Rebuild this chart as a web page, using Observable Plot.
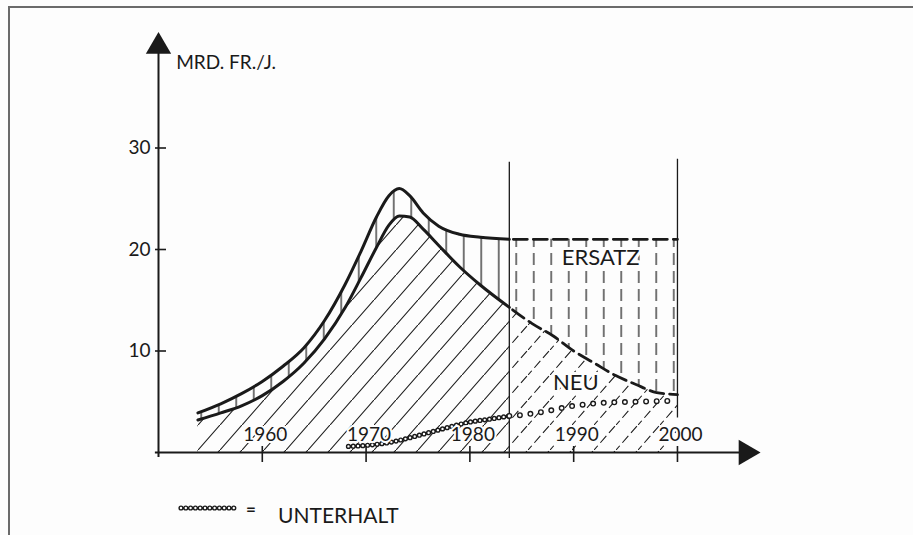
<!DOCTYPE html>
<html><head><meta charset="utf-8">
<script src="https://cdn.jsdelivr.net/npm/d3@7"></script>
<script src="https://cdn.jsdelivr.net/npm/@observablehq/plot@0.6"></script>
<style>
html,body{margin:0;padding:0;background:#fdfdfd;}
#wrap{position:relative;width:913px;height:535px;overflow:hidden;font-family:Lato,"Open Sans",sans-serif;color:#1a1a1a;}
#frame{position:absolute;left:8px;top:6px;right:-6px;bottom:-6px;border-left:2px solid #6b6b6b;border-top:2px solid #6b6b6b;}
#chart{position:absolute;left:0;top:0;}
.lg{position:absolute;white-space:nowrap;}
</style></head><body>
<div id="wrap">
  <div id="frame"></div>
  <div id="chart"></div>
  <svg class="lg" style="left:177px;top:502px" width="64" height="12">
    <path d="M4,6H60" fill="none" stroke="#1a1a1a" stroke-width="5.2" stroke-linecap="round" stroke-dasharray="0 4.8"/>
    <path d="M4,6H60" fill="none" stroke="#fdfdfd" stroke-width="2.4" stroke-linecap="round" stroke-dasharray="0 4.8"/>
  </svg>
  <span class="lg" style="left:246px;top:498px;font-size:17px;font-weight:bold">=</span>
  <span class="lg" id="legendText" style="left:278px;top:502px;font-size:21px"></span>
</div>
<script>
// ---- data ----
const years = [1953.8, 1956, 1958, 1960, 1962, 1964, 1966, 1968, 1969.5, 1971, 1972.2, 1973.2, 1974.2, 1975.5, 1977, 1979, 1981, 1983.8, 1986, 1988, 1990, 1992, 1994, 1996, 1998, 2000];
const total = [3.9, 4.8, 5.8, 7.0, 8.5, 10.3, 13.0, 16.6, 19.8, 23.2, 25.3, 26.0, 25.3, 23.6, 22.3, 21.5, 21.2, 21.0, 21.0, 21.0, 21.0, 21.0, 21.0, 21.0, 21.0, 21.0];
const neu   = [3.2, 3.9, 4.6, 5.6, 7.0, 8.8, 11.2, 14.3, 17.2, 20.2, 22.4, 23.3, 23.2, 22.0, 20.4, 18.3, 16.5, 14.3, 12.7, 11.5, 10.0, 8.8, 7.6, 6.7, 5.9, 5.7];
const splitYear = 1983.8; // solid (observed) vs dashed (forecast)

const unterhaltYears  = [1968.3, 1970, 1972.3, 1974, 1976.2, 1978, 1980, 1982, 1983.8, 1985, 1987, 1990, 1993, 1996, 2000];
const unterhaltValues = [0.6, 0.7, 1.0, 1.4, 2.0, 2.5, 3.0, 3.3, 3.6, 3.7, 4.0, 4.6, 4.9, 5.0, 5.1];

const boundaryYears  = [1983.8, 2000];
const boundaryTop    = [28.6, 28.9];
const boundaryBottom = [-0.6, 3.4];

const xTicks = [1960, 1970, 1980, 1990, 2000];
const yTicks = [10, 20, 30];
const xDomain = [1950, 2008];
const yDomain = [0, 40];
const unitLabel = ["MRD. FR./J."];
const unitPos = [1951.7, 38.4];
const areaLabels = ["ERSATZ", "NEU"];
const areaLabelYears = [1992.6, 1990.2];
const areaLabelValues = [19.2, 6.9];
const legendLabel = "UNTERHALT";

// ---- tables ----
const rows = years.map((y, i) => ({year: y, total: total[i], neu: neu[i]}));
const solidRows = rows.filter(r => r.year <= splitYear);
const dashRows = rows.filter(r => r.year >= splitYear);
const unt = unterhaltYears.map((y, i) => ({year: y, v: unterhaltValues[i]}));
const untDense = unt.filter(d => d.year <= splitYear);
const untSparse = unt.filter(d => d.year >= splitYear);
const bounds = boundaryYears.map((y, i) => ({year: y, top: boundaryTop[i], bottom: boundaryBottom[i]}));
const labels = areaLabels.map((t, i) => ({t, year: areaLabelYears[i], v: areaLabelValues[i]}));
const arrows = [{x: xDomain[0], y: yDomain[1], r: 0}, {x: 2006.6, y: 0, r: 90}];

const ink = "#1a1a1a";
const bg = "#fdfdfd";
const curve = "monotone-x";

// hatch patterns
const defs = () => {
  const d = d3.create("svg:defs");
  const diag = (id, dash) => {
    const p = d.append("pattern").attr("id", id).attr("patternUnits", "userSpaceOnUse")
      .attr("width", 22).attr("height", 25);
    p.append("line").attr("x1", -2.2).attr("y1", 27.5).attr("x2", 24.2).attr("y2", -2.5)
      .attr("stroke", ink).attr("stroke-width", 1.1).attr("stroke-dasharray", dash);
  };
  const vert = (id, dash) => {
    const p = d.append("pattern").attr("id", id).attr("patternUnits", "userSpaceOnUse")
      .attr("width", 17.5).attr("height", 18);
    p.append("line").attr("x1", 8.75).attr("y1", -1).attr("x2", 8.75).attr("y2", 19)
      .attr("stroke", ink).attr("stroke-width", 1.2).attr("stroke-dasharray", dash);
  };
  diag("diagSolid", null);
  diag("diagDash", "9 4");
  vert("vertSolid", null);
  vert("vertDash", "0 2 12 4");
  return d.node();
};

const chart = Plot.plot({
  width: 913, height: 480,
  marginLeft: 158, marginRight: 153, marginTop: 46, marginBottom: 28,
  x: {domain: xDomain},
  y: {domain: yDomain},
  style: {background: "transparent", fontFamily: "Lato, 'Open Sans', sans-serif", color: ink, overflow: "visible"},
  marks: [
    defs,
    // hatched areas
    Plot.areaY(solidRows, {x: "year", y1: 0, y2: "neu", fill: "url(#diagSolid)", curve}),
    Plot.areaY(dashRows, {x: "year", y1: 0, y2: "neu", fill: "url(#diagDash)", curve}),
    Plot.areaY(solidRows, {x: "year", y1: "neu", y2: "total", fill: "url(#vertSolid)", curve}),
    Plot.areaY(dashRows, {x: "year", y1: "neu", y2: "total", fill: "url(#vertDash)", curve}),
    // period boundaries
    Plot.ruleX(bounds, {x: "year", y1: "bottom", y2: "top", stroke: ink, strokeWidth: 1.3}),
    // curves
    Plot.line(solidRows, {x: "year", y: "total", stroke: ink, strokeWidth: 3, curve}),
    Plot.line(solidRows, {x: "year", y: "neu", stroke: ink, strokeWidth: 3, curve}),
    Plot.line(dashRows, {x: "year", y: "total", stroke: ink, strokeWidth: 2.8, strokeDasharray: "14 6", strokeDashoffset: -4, curve}),
    Plot.line(dashRows, {x: "year", y: "neu", stroke: ink, strokeWidth: 2.8, strokeDasharray: "14 6", strokeDashoffset: -4, curve}),
    // Unterhalt (chain of small circles)
    Plot.line(untDense, {x: "year", y: "v", stroke: ink, strokeWidth: 5.2, strokeLinecap: "round", strokeDasharray: "0 4.8", curve}),
    Plot.line(untDense, {x: "year", y: "v", stroke: bg, strokeWidth: 2.4, strokeLinecap: "round", strokeDasharray: "0 4.8", curve}),
    Plot.line(untSparse, {x: "year", y: "v", stroke: ink, strokeWidth: 6, strokeLinecap: "round", strokeDasharray: "0 10.6", strokeDashoffset: -10.6, curve}),
    Plot.line(untSparse, {x: "year", y: "v", stroke: bg, strokeWidth: 3.2, strokeLinecap: "round", strokeDasharray: "0 10.6", strokeDashoffset: -10.6, curve}),
    // axes
    Plot.ruleX([xDomain[0]], {y1: -0.5, y2: yDomain[1], stroke: ink, strokeWidth: 2}),
    Plot.ruleY([0], {x1: 1949.7, x2: 2006.6, stroke: ink, strokeWidth: 2}),
    Plot.dot(arrows, {x: "x", y: "y", rotate: "r", symbol: "triangle", r: 9.4, fill: ink, stroke: "none"}),
    Plot.axisY({ticks: yTicks, tickSize: 11, tickPadding: 5, dx: 8, fontSize: 19, label: null, strokeWidth: 1.6}),
    Plot.axisX({ticks: xTicks, tickSize: 16, tickFormat: () => "", dy: -6, label: null, strokeWidth: 1.6}),
    Plot.text(xTicks, {x: d => d, y: 0, dy: -18, dx: 3, text: d => String(d), fontSize: 19, fill: ink, stroke: bg, strokeWidth: 4}),
    // labels
    Plot.text(unitLabel, {x: unitPos[0], y: unitPos[1], text: d => d, textAnchor: "start", fontSize: 19, fill: ink}),
    Plot.text(labels, {x: "year", y: "v", text: "t", fontSize: 22, fill: ink, stroke: bg, strokeWidth: 6})
  ]
});
document.getElementById("chart").appendChild(chart);
document.getElementById("legendText").textContent = legendLabel;
</script>
</body></html>
